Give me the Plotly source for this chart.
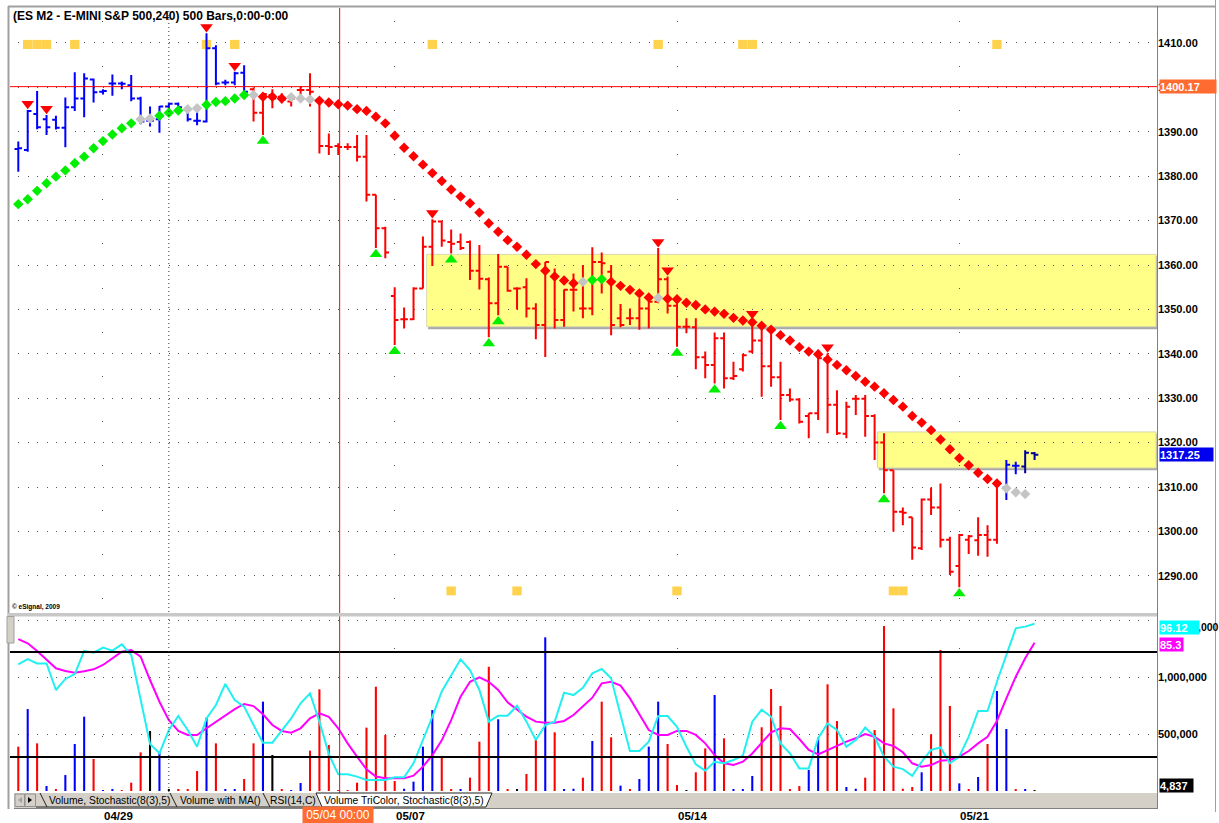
import plotly.graph_objects as go

# ---------------- data ----------------
bar_index = list(range(109))
opens = [1386.1,1385.9,1394.0,1392.8,1392.7,1390.9,1395.5,1397.5,1401.8,1399.0,
         1400.9,1400.9,1400.5,1397.5,1392.5,1392.8,1395.7,1396.3,1394.9,1392.5,
         1392.3,1408.8,1401.1,1401.1,1403.3,1399.6,1394.3,1398.3,1397.9,1396.8,
         1399.4,1399.4,1397.2,1386.8,1386.8,1386.6,1386.6,1384.4,1375.8,1368.3,
         1353.0,1347.8,1347.8,1354.7,1364.1,1369.8,1365.2,1365.2,1365.2,1358.7,
         1356.8,1351.4,1359.6,1354.7,1355.0,1350.2,1346.5,1357.4,1347.6,1354.4,
         1350.2,1350.2,1360.7,1358.5,1348.0,1348.0,1348.0,1350.2,1351.7,1356.8,
         1350.8,1346.1,1346.0,1339.2,1337.5,1343.5,1334.5,1336.5,1340.5,1343.0,
         1337.2,1334.7,1330.7,1329.7,1326.0,1326.6,1339.0,1328.5,1322.0,1329.9,
         1329.9,1326.0,1320.0,1313.8,1304.4,1303.2,1296.2,1307.2,1305.4,1298.1,
         1292.2,1298.1,1298.0,1299.2,1298.1,1309.9,1314.8,1314.6,1317.6]
highs = [1387.8,1394.9,1399.2,1393.8,1393.6,1397.7,1403.4,1403.2,1402.0,1399.6,
         1402.9,1401.3,1402.8,1397.9,1395.7,1395.8,1396.6,1396.6,1395.3,1395.1,
         1412.2,1409.5,1401.7,1403.5,1405.0,1400.0,1398.7,1399.6,1398.7,1397.9,
         1400.3,1403.2,1397.5,1389.6,1387.4,1387.4,1389.3,1389.3,1375.8,1368.6,
         1355.0,1350.4,1355.0,1366.4,1370.3,1370.0,1368.0,1367.1,1365.5,1364.5,
         1357.2,1362.5,1359.6,1355.0,1357.0,1351.4,1360.7,1359.2,1354.5,1358.1,
         1360.0,1364.0,1362.8,1360.0,1351.2,1350.2,1352.5,1352.1,1363.8,1357.4,
         1352.5,1348.0,1348.0,1340.5,1344.8,1344.8,1338.2,1340.0,1347.6,1345.4,
         1344.6,1338.2,1332.2,1330.0,1326.6,1340.9,1340.1,1331.8,1329.2,1330.7,
         1330.7,1326.4,1322.1,1313.8,1305.4,1303.2,1307.4,1309.9,1310.8,1298.8,
         1299.4,1299.2,1303.2,1301.4,1311.7,1316.1,1315.7,1318.3,1317.9]
lows = [1381.0,1385.5,1390.6,1389.3,1390.5,1386.5,1394.7,1393.3,1396.6,1398.4,
        1398.1,1399.6,1396.9,1391.7,1391.2,1389.8,1393.8,1394.2,1392.3,1391.5,
        1392.1,1400.5,1400.5,1400.5,1397.9,1392.3,1389.3,1395.3,1396.4,1395.7,
        1397.2,1395.7,1385.1,1384.8,1384.8,1385.9,1383.3,1374.3,1363.8,1361.5,
        1342.0,1345.7,1347.6,1354.7,1359.8,1364.1,1362.6,1363.4,1356.6,1354.5,
        1343.7,1348.7,1354.0,1350.0,1348.2,1343.3,1339.3,1345.7,1346.1,1349.5,
        1348.0,1348.7,1353.6,1344.2,1346.0,1346.5,1345.4,1345.7,1351.4,1349.1,
        1341.6,1344.6,1336.5,1334.5,1333.3,1332.2,1334.1,1336.0,1340.1,1330.3,
        1332.6,1325.1,1329.2,1324.3,1321.0,1325.1,1322.1,1321.7,1321.0,1326.2,
        1321.3,1316.1,1308.6,1300.0,1301.4,1293.6,1295.8,1303.7,1296.4,1290.2,
        1287.4,1294.9,1294.5,1294.3,1297.2,1307.1,1312.9,1313.1,1316.1]
closes = [1386.3,1394.7,1391.0,1391.0,1390.9,1395.5,1397.5,1402.0,1398.9,1399.2,
          1400.9,1400.8,1397.5,1392.3,1392.5,1395.7,1396.3,1395.5,1392.8,1392.5,
          1408.8,1400.9,1401.1,1403.2,1399.0,1394.3,1398.5,1397.5,1397.2,1397.5,
          1399.4,1399.0,1386.8,1386.6,1386.6,1386.6,1384.4,1375.8,1368.3,1362.8,
          1347.6,1347.8,1354.7,1364.1,1369.8,1365.5,1364.8,1363.8,1358.7,1356.9,
          1351.4,1359.6,1354.2,1354.7,1350.2,1346.5,1360.7,1347.6,1354.4,1354.4,
          1350.2,1360.7,1360.4,1346.5,1346.5,1348.0,1350.2,1351.7,1356.8,1350.8,
          1346.1,1346.1,1339.2,1337.5,1343.5,1334.5,1335.0,1339.7,1343.0,1337.2,
          1334.7,1330.7,1329.7,1324.7,1326.6,1339.0,1328.5,1322.1,1328.1,1329.9,
          1326.0,1320.0,1313.8,1304.4,1304.2,1296.4,1307.2,1305.4,1298.1,1290.9,
          1299.2,1298.9,1299.2,1298.1,1311.0,1315.0,1314.8,1317.7,1317.25]
bar_color_segments = [(0, 24, "#0000ff"), (25, 104, "#ff0000"), (105, 106, "#0000ff"), (107, 108, "#000099")]

stop_values = [1373.7,1374.8,1376.7,1378.4,1379.9,1381.3,1382.9,1384.4,1386.3,1387.9,
               1389.4,1390.8,1391.9,1392.8,1393.0,1393.6,1394.3,1394.8,1395.1,1395.3,
               1396.1,1396.7,1396.9,1397.5,1398.3,1398.3,1397.9,1397.9,1397.5,1397.8,
               1397.5,1397.3,1397.0,1396.6,1396.2,1395.9,1395.1,1394.7,1393.4,1391.9,
               1389.1,1386.4,1384.5,1382.6,1380.7,1378.9,1377.0,1375.4,1373.9,1371.8,
               1369.4,1367.5,1365.6,1364.1,1362.3,1360.2,1358.7,1357.4,1356.5,1355.9,
               1356.2,1356.6,1356.8,1356.2,1355.3,1354.4,1353.6,1352.7,1352.6,1352.4,
               1352.3,1351.5,1351.0,1350.0,1349.5,1349.0,1348.1,1347.5,1347.1,1346.3,
               1345.4,1344.2,1343.0,1341.5,1340.5,1339.9,1338.7,1337.5,1336.3,1335.0,
               1333.7,1332.6,1331.1,1329.6,1328.1,1326.0,1324.5,1322.8,1320.7,1318.5,
               1316.5,1314.9,1313.2,1311.8,1310.8,1309.7,1308.8,1308.4]
stop_states = ("g" * 13 + "xx" + "ggg" + "xx" + "ggggg" + "x" + "rrr" + "xxx" + "r" * 28
               + "x" + "gg" + "rrrrr" + "x" + "r" * 36 + "xxx")

sell_signal_bars = [1, 3, 20, 23, 44, 68, 69, 78, 86]
buy_signal_bars = [26, 38, 40, 46, 50, 51, 70, 74, 81, 92, 100]
top_alert_bars = [1, 2, 3, 6, 20, 23, 44, 68, 77, 78, 104]
bottom_alert_bars = [46, 53, 70, 93, 94]

volume = [389000,719000,418000,44000,15000,140000,412000,652000,281000,5000,
          18000,8000,73000,339000,526000,345000,10000,10000,18000,175000,
          643000,418000,18000,10000,105000,418000,784000,316000,10000,8000,
          70000,354000,892000,404000,8000,5000,73000,556000,915000,491000,
          88000,20000,82000,389000,710000,304000,18000,10000,117000,433000,
          1090000,629000,15000,15000,149000,447000,1348000,515000,15000,20000,
          117000,439000,784000,471000,47000,10000,105000,389000,784000,412000,
          53000,5000,164000,374000,842000,462000,15000,15000,132000,559000,
          895000,746000,15000,44000,184000,471000,936000,614000,35000,20000,
          117000,535000,1447000,725000,20000,35000,164000,497000,1237000,746000,
          67000,15000,123000,412000,877000,544000,15000,10000,4837]
volume_dir = ("rbrbrbbbrb" "brrrkbkrrr" "brbbrrbkrb" "brrrrrrrrr" "rbbbbrrbrr"
              "rbrkrrbrbb" "rbrrbrbbbr" "rkrrbrbbbr" "rrrrbbrrbb" "rrrrrrbrrr" "brbrbbrbk")

stoch_k = [73.0,76.0,73.5,73.5,58.3,64.6,67.4,80.6,79.6,82.5,
           80.8,84.4,78.3,52.6,27.4,22.1,35.4,43.4,35.4,25.9,
           42.1,49.7,61.7,52.6,48.8,38.3,28.2,28.2,35.4,42.1,
           50.7,56.4,40.2,21.7,10.1,10.1,8.8,6.9,6.9,6.9,
           8.4,8.4,16.4,29.7,43.0,57.5,66.9,75.8,69.7,58.3,
           40.2,43.6,43.6,49.3,40.2,29.7,38.3,40.2,56.8,55.4,
           59.6,67.8,70.3,65.0,44.0,23.4,23.4,28.8,43.4,43.4,
           37.3,25.9,15.8,12.2,17.3,16.4,18.3,20.8,40.2,47.0,
           43.0,27.8,22.1,13.5,13.5,30.7,39.2,35.4,25.9,29.7,
           36.8,31.6,20.2,14.5,13.1,9.3,17.3,24.0,25.5,16.4,
           20.2,31.6,46.3,46.3,63.0,78.7,93.5,94.5,96.12]
stoch_d = [87.4,85.0,80.6,75.4,70.7,69.1,68.2,69.0,70.1,72.6,
           76.4,80.2,81.1,77.3,64.0,51.6,41.1,34.9,32.6,32.6,
           36.4,40.2,43.6,47.4,50.3,49.1,44.4,38.3,34.9,33.9,
           36.4,42.1,45.0,43.0,36.4,27.8,20.2,13.0,8.8,7.8,
           7.8,7.8,9.3,14.5,21.0,29.5,41.1,54.5,63.0,65.5,
           63.0,58.3,51.2,47.2,43.0,40.2,39.6,39.6,40.6,44.0,
           48.8,53.9,62.1,63.0,60.8,53.5,44.4,35.4,32.6,32.6,
           34.9,34.9,32.6,27.8,21.1,16.4,15.4,17.3,22.0,28.3,
           34.1,36.4,36.0,30.3,24.0,21.5,24.0,26.5,28.8,30.7,
           33.1,31.6,27.8,26.3,22.7,16.4,14.5,15.4,17.9,18.3,
           20.2,23.4,27.8,31.6,40.6,53.5,65.9,76.4,85.3]
stoch_levels = [20, 80]

date_tick_bars = [9, 40, 70, 100]
date_tick_labels = ["04/29", "05/07", "05/14", "05/21"]
price_ticks = list(range(1290, 1411, 10))
volume_ticks = [500000, 1000000, 1500000]
volume_tick_labels = ["500,000", "1,000,000", "1,500,000"]
zones = [{"start": 43.4, "low": 1346.1, "high": 1362.4},
         {"start": 91.3, "low": 1314.3, "high": 1322.4}]
cursor_bar = 34.15
cursor_price = 1400.17
cursor_label = "05/04 00:00"
session_bar = 16
title_text = "(ES M2 - E-MINI S&P 500,240) 500 Bars,0:00-0:00"
tab_labels = ["Volume, Stochastic(8(3),5)", "Volume with MA()", "RSI(14,C)",
              "Volume TriColor, Stochastic(8(3),5)"]

# ---------------- style ----------------
W, H = 1219, 823
ML, MR, MT, MB = 10, 62, 8, 31
PW, PH = W - ML - MR, H - MT - MB
FONT = "Liberation Sans, Arial, sans-serif"
X_RANGE = [-0.882, 121.01]
PRICE_RANGE = [1281.62, 1417.88]
VOL_RANGE = [-8772, 1526300]
MAIN_DOMAIN = [0.2283, 1.0]
LOW_DOMAIN = [0.0, 0.2232]
RED, BLUE, GREEN, GREY = "#ff0000", "#0000ff", "#00ee00", "#c4c4c4"
ALERT = "#ffd24d"
ORANGE = "#ff6b30"
TABGREY = "#d4d0c8"
DOTC = "#555555"
signal_offset = 1.4
top_band = (1408.65, 1410.7)
bottom_band = (1285.6, 1287.6)


def px_x(p):
    return (p - ML) / PW


def px_y(p):
    return (MT + PH - p) / PH


fig = go.Figure()

# alert strips
for bars, band in ((top_alert_bars, top_band), (bottom_alert_bars, bottom_band)):
    fig.add_trace(go.Bar(x=bars, y=[band[1] - band[0]] * len(bars), base=[band[0]] * len(bars),
                         width=1.0, marker=dict(color=ALERT, line=dict(width=0)),
                         xaxis="x", yaxis="y", hoverinfo="skip"))

# trailing-stop diamonds
state_color = {"g": GREEN, "x": GREY, "r": RED}
fig.add_trace(go.Scatter(x=bar_index[:len(stop_values)], y=stop_values, mode="markers",
                         marker=dict(symbol="diamond", size=8,
                                     color=[state_color[s] for s in stop_states],
                                     line=dict(width=0)),
                         xaxis="x", yaxis="y", hoverinfo="skip"))

# OHLC bars
for a, b, col in bar_color_segments:
    sl = slice(a, b + 1)
    fig.add_trace(go.Ohlc(x=bar_index[sl], open=opens[sl], high=highs[sl], low=lows[sl],
                          close=closes[sl], tickwidth=0.4, line=dict(width=2),
                          increasing=dict(line=dict(color=col)),
                          decreasing=dict(line=dict(color=col)),
                          xaxis="x", yaxis="y", hoverinfo="skip"))

# signals
fig.add_trace(go.Scatter(x=sell_signal_bars, y=[highs[i] + signal_offset for i in sell_signal_bars],
                         mode="markers", marker=dict(symbol="triangle-down", size=11, color=RED,
                                                     line=dict(width=0)),
                         xaxis="x", yaxis="y", hoverinfo="skip"))
fig.add_trace(go.Scatter(x=buy_signal_bars, y=[lows[i] - signal_offset for i in buy_signal_bars],
                         mode="markers", marker=dict(symbol="triangle-up", size=11, color=GREEN,
                                                     line=dict(width=0)),
                         xaxis="x", yaxis="y", hoverinfo="skip"))

# volume
dir_color = {"r": RED, "b": BLUE, "k": "#000000"}
fig.add_trace(go.Bar(x=bar_index, y=volume, width=0.22,
                     marker=dict(color=[dir_color[c] for c in volume_dir], line=dict(width=0)),
                     xaxis="x2", yaxis="y2", hoverinfo="skip"))

# stochastic
fig.add_trace(go.Scatter(x=bar_index, y=stoch_d, mode="lines", line=dict(color="#ff00ff", width=2),
                         xaxis="x2", yaxis="y3", hoverinfo="skip"))
fig.add_trace(go.Scatter(x=bar_index, y=stoch_k, mode="lines", line=dict(color="#22f0f0", width=2),
                         xaxis="x2", yaxis="y3", hoverinfo="skip"))

shapes = []
# zones
for z in zones:
    shapes.append(dict(type="rect", xref="x", yref="y", x0=z["start"] + 0.15, x1=X_RANGE[1] + 1,
                       y0=z["low"] - 0.55, y1=z["high"] - 0.4, fillcolor="#a8a8a8",
                       line=dict(width=0), layer="below"))
    shapes.append(dict(type="rect", xref="x", yref="y", x0=z["start"], x1=X_RANGE[1] - 0.1,
                       y0=z["low"], y1=z["high"], fillcolor="#ffff88",
                       line=dict(width=1, color="#d8d8b0"), layer="below"))
# stochastic levels
for lv in stoch_levels:
    shapes.append(dict(type="line", xref="paper", yref="y3", x0=0, x1=1, y0=lv, y1=lv,
                       line=dict(color="#000000", width=2)))
# session divider
shapes.append(dict(type="line", xref="x", yref="paper", x0=session_bar, x1=session_bar,
                   y0=0, y1=1, line=dict(color="#333333", width=1, dash="1px,3px")))
# cursor
shapes.append(dict(type="line", xref="paper", yref="y", x0=0, x1=1, y0=cursor_price,
                   y1=cursor_price, line=dict(color=RED, width=1)))
shapes.append(dict(type="line", xref="x", yref="paper", x0=cursor_bar, x1=cursor_bar,
                   y0=px_y(793), y1=1, line=dict(color=RED, width=1)))

# chrome
def pline(x0, y0, x1, y1, color="#a0a0a0", width=1):
    shapes.append(dict(type="line", xref="paper", yref="paper", x0=px_x(x0), y0=px_y(y0),
                       x1=px_x(x1), y1=px_y(y1), line=dict(color=color, width=width)))


def prect(x0, y0, x1, y1, fill, line_color=None, lw=1):
    shapes.append(dict(type="rect", xref="paper", yref="paper", x0=px_x(x0), y0=px_y(y1),
                       x1=px_x(x1), y1=px_y(y0), fillcolor=fill,
                       line=dict(color=line_color or fill, width=lw if line_color else 0)))


pline(8, 6.5, 1216, 6.5, "#a0a0a0", 2)
pline(8.5, 6, 8.5, 809, "#a0a0a0", 2)
prect(8, 613, 1157.5, 616.5, "#c8c8c8")
prect(7, 616.5, 14, 643, TABGREY, "#a0a0a0")
pline(1157.5, 6, 1157.5, 809, "#808080", 1)
pline(1215.5, 0, 1215.5, 812, "#a0a0a0", 1)
# tab bar
prect(14, 793, 1157, 808, TABGREY)
pline(14, 808.5, 1157, 808.5, "#808080", 1)
prect(15, 794, 24.5, 806.5, TABGREY, "#909090")
prect(25, 794, 35.5, 806.5, TABGREY, "#909090")
shapes.append(dict(type="path", xref="paper", yref="paper",
                   path=f"M{px_x(22)},{px_y(797)} L{px_x(18)},{px_y(800)} L{px_x(22)},{px_y(803)} Z",
                   fillcolor="#a0a0a0", line=dict(width=0)))
shapes.append(dict(type="path", xref="paper", yref="paper",
                   path=f"M{px_x(28)},{px_y(797)} L{px_x(32)},{px_y(800)} L{px_x(28)},{px_y(803)} Z",
                   fillcolor="#000000", line=dict(width=0)))
for sx in (40, 170, 263):
    pline(sx, 793, sx + 7, 807, "#202020", 1)
pline(36, 807, 320, 807, "#202020", 1)
shapes.append(dict(type="path", xref="paper", yref="paper",
                   path=(f"M{px_x(316)},{px_y(793)} L{px_x(322)},{px_y(807)} "
                         f"L{px_x(486)},{px_y(807)} L{px_x(492)},{px_y(793)} Z"),
                   fillcolor="#ffffff", line=dict(color="#202020", width=1)))

annotations = []


def ann(text, x, y, xref="paper", yref="paper", size=11, color="#000000", xanchor="left",
        yanchor="middle", bg=None, width=None, height=None, align="left", yshift=0):
    d = dict(text=text, x=x, y=y, xref=xref, yref=yref, showarrow=False,
             font=dict(family=FONT, size=size, color=color), xanchor=xanchor, yanchor=yanchor,
             align=align, yshift=yshift, borderpad=0)
    if bg:
        d["bgcolor"] = bg
    if width:
        d["width"] = width
    if height:
        d["height"] = height
    annotations.append(d)


ann("<b>" + title_text.replace("&", "&amp;") + "</b>", px_x(12), px_y(15.5), size=12)
ann("<b>© eSignal, 2009</b>", px_x(11), px_y(607), size=6.5)
ann(f"<b>{cursor_price:.2f}</b>", px_x(1158.5), cursor_price, yref="y", color="#ffffff",
    bg=ORANGE, width=56, height=13)
ann(f"<b>{closes[-1]:.2f}</b>", px_x(1158.5), closes[-1], yref="y", color="#ffffff",
    bg="#0000ee", width=53, height=13)
# the top volume label is mostly hidden behind the %K value box; only its tail shows
ann("<b>" + volume_tick_labels[-1][-4:] + "</b>", px_x(1196.5), volume_ticks[-1], yref="y2",
    yshift=-7, size=10.5)
ann(f"<b>{stoch_k[-1]:.2f}</b>", px_x(1158.5), stoch_k[-1], yref="y3", color="#ffffff",
    bg="#00ffff", width=39, height=13, yshift=-4)
ann(f"<b>{stoch_d[-1]:.1f}</b>", px_x(1158.5), stoch_d[-1], yref="y3", color="#ffffff",
    bg="#ff00ff", width=23, height=13, yshift=-2)
ann(f"<b>{volume[-1]:,}</b>", px_x(1158.5), volume[-1], yref="y2", color="#ffffff",
    bg="#000000", width=33, height=13, yshift=5)
for b, lab in zip(date_tick_bars, date_tick_labels):
    ann(f"<b>{lab}</b>", b, px_y(815.5), xref="x2", size=11.5)
ann(cursor_label, cursor_bar - 0.2, px_y(815), xref="x2", size=12, color="#ffffff",
    xanchor="center", bg=ORANGE, width=70, height=16, align="center")
for lab, cx in zip(tab_labels, (109, 220, 293, 404)):
    ann(lab, px_x(cx), px_y(800.5), size=10.3, xanchor="center", align="center")

xgrid_main = "0px,13.2px,1px,30.2px"
xgrid_low = "0px,31px,1px,56px"
ygrid = "0px,8.3px,1px,0.11px"

fig.update_layout(
    width=W, height=H, margin=dict(l=ML, r=MR, t=MT, b=MB),
    paper_bgcolor="white", plot_bgcolor="white", showlegend=False, hovermode=False,
    barmode="overlay", font=dict(family=FONT, size=11, color="#000000"),
    xaxis=dict(domain=[0, 1], range=X_RANGE, anchor="y", showticklabels=False, ticks="",
               tickvals=date_tick_bars, showgrid=True, gridcolor=DOTC, gridwidth=1,
               griddash=xgrid_main, zeroline=False, showline=False,
               rangeslider=dict(visible=False), fixedrange=True),
    xaxis2=dict(domain=[0, 1], range=X_RANGE, anchor="y2", matches="x", showticklabels=False,
                ticks="", tickvals=date_tick_bars, showgrid=True, gridcolor=DOTC, gridwidth=1,
                griddash=xgrid_low, zeroline=False, showline=False,
                rangeslider=dict(visible=False)),
    yaxis=dict(domain=MAIN_DOMAIN, range=PRICE_RANGE, anchor="x", side="right",
               tickvals=price_ticks, ticktext=[f"<b>{v:.2f}</b>" for v in price_ticks],
               tickfont=dict(family=FONT, size=11, color="#000000"), ticks="",
               showgrid=True, gridcolor=DOTC, gridwidth=1, griddash=ygrid,
               zeroline=False, showline=False),
    yaxis2=dict(domain=LOW_DOMAIN, range=VOL_RANGE, anchor="x2", side="right",
                tickvals=volume_ticks,
                ticktext=[f"<b>{t}</b>" for t in volume_tick_labels[:2]] + [""],
                tickfont=dict(family=FONT, size=11, color="#000000"), ticks="",
                showgrid=True, gridcolor=DOTC, gridwidth=1, griddash=ygrid,
                zeroline=False, showline=False),
    yaxis3=dict(domain=LOW_DOMAIN, range=[0, 100], anchor="x2", overlaying="y2", side="right",
                showticklabels=False, showgrid=False, zeroline=False, ticks=""),
    shapes=shapes, annotations=annotations,
)

fig.write_html("out.html", config={"displayModeBar": False},
               post_script="document.body.style.margin='0';document.body.style.overflow='hidden';")
